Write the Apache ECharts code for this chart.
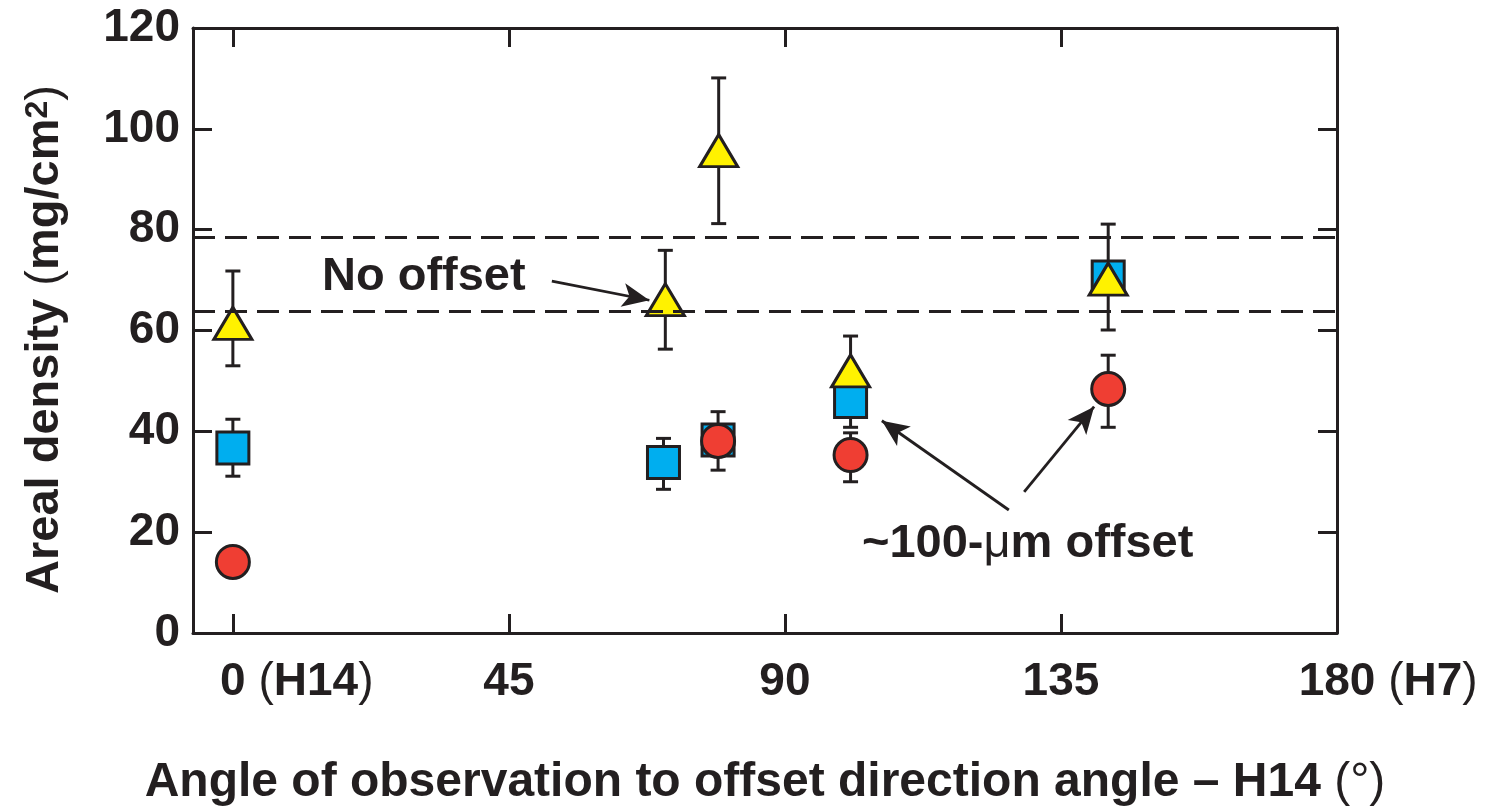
<!DOCTYPE html>
<html>
<head>
<meta charset="utf-8">
<script src="https://cdn.jsdelivr.net/npm/echarts@6/dist/echarts.min.js"></script>
<style>html,body{margin:0;padding:0;background:#fff;}#c{width:1486px;height:806px;}</style>
</head>
<body>
<div id="c"></div>
<script>
// ---- data ----
const xTicks = [0, 45, 90, 135, 180];
const yTicks = [0, 20, 40, 60, 80, 100, 120];

const triX  = [0, 70.5, 79.2, 100.7, 142.7];
const triY  = [61.4, 66.1, 95.7, 52.0, 70.2];
const triLo = [53.0, 56.3, 81.2, 52.0, 60.1];
const triHi = [71.8, 75.9, 110.1, 58.9, 81.1];

const sqX  = [0, 70.2, 79.1, 100.7, 142.7];
const sqY  = [36.7, 33.8, 38.3, 45.9, 70.6];
const sqLo = [31.1, 28.5, 38.3, 40.8, 70.6];
const sqHi = [42.4, 38.6, 38.3, 45.9, 70.6];

const cirX  = [0, 79.1, 100.7, 142.7];
const cirY  = [14.1, 38.1, 35.3, 48.4];
const cirLo = [14.1, 32.3, 30.0, 40.8];
const cirHi = [14.1, 43.9, 39.7, 55.1];

const bandLines = [78.5, 63.8];   // dashed reference lines

// annotation arrows [fromX, fromY, toX, toY] in data units
const arrows = [
  [52.0, 69.8, 67.9, 66.0],
  [126.5, 24.4, 105.8, 42.1],
  [129.0, 28.0, 140.4, 44.9]
];

const INK = '#231F20';
const FONT = '"Liberation Sans", Arial, Helvetica, sans-serif';

function zip(a, b) { return a.map((v, i) => [v, b[i]]); }
const errData = [];
[[triX, triLo, triHi], [sqX, sqLo, sqHi], [cirX, cirLo, cirHi]].forEach(g => {
  g[0].forEach((x, i) => { if (g[2][i] !== g[1][i]) errData.push([x, g[1][i], g[2][i]]); });
});

const chart = echarts.init(document.getElementById('c'));

const labelRich = {
  b:  {fontFamily: FONT, fontWeight: 'bold', fontSize: 46, color: INK},
  r:  {fontFamily: FONT, fontWeight: 'normal', fontSize: 46, color: INK},
  tb: {fontFamily: FONT, fontWeight: 'bold', fontSize: 46, color: 'rgba(0,0,0,0)'},
  tr: {fontFamily: FONT, fontWeight: 'normal', fontSize: 46, color: 'rgba(0,0,0,0)'}
};

function xLabel(v) {
  if (v === 0) return '{tr|(}{tb|H14}{tr|)}{tb| }{b|0}{b| }{r|(}{b|H14}{r|)}';
  if (v === 180) return '{tr|(}{tb|H7}{tr|)}{tb| }{b|180}{b| }{r|(}{b|H7}{r|)}';
  return '{b|' + v + '}';
}

const axisLineStyle = {show: true, onZero: false, lineStyle: {color: INK, width: 3}};
const tickStyle = {show: true, inside: true, length: 19, lineStyle: {color: INK, width: 3}};

const option = {
  backgroundColor: '#fff',
  animation: false,
  grid: {left: 193, right: 149, top: 28, bottom: 173, outerBoundsMode: 'none', containLabel: false},
  xAxis: [{
    type: 'value', min: -6.5, max: 180, position: 'bottom',
    axisLine: axisLineStyle,
    axisTick: Object.assign({customValues: xTicks}, tickStyle),
    axisLabel: {customValues: xTicks, formatter: xLabel, rich: labelRich, margin: 26, fontSize: 46},
    splitLine: {show: false},
    name: '{b|Angle of observation to offset direction angle – H14 }{r|(°)}',
    nameLocation: 'middle', nameGap: 126,
    nameTextStyle: {rich: {
      b: {fontFamily: FONT, fontWeight: 'bold', fontSize: 48, color: INK},
      r: {fontFamily: FONT, fontWeight: 'normal', fontSize: 48, color: INK}
    }}
  }, {
    type: 'value', min: -6.5, max: 180, position: 'top',
    axisLine: axisLineStyle,
    axisTick: Object.assign({customValues: xTicks}, tickStyle),
    axisLabel: {show: false}, splitLine: {show: false}
  }],
  yAxis: [{
    type: 'value', min: 0, max: 120, interval: 20, position: 'left',
    axisLine: axisLineStyle, axisTick: tickStyle,
    axisLabel: {fontFamily: FONT, fontWeight: 'bold', fontSize: 46, color: INK, margin: 13},
    splitLine: {show: false},
    name: '{b|Areal density }{r|(}{b|mg/cm}{s|2}{r|)}{p|}',
    nameLocation: 'middle', nameGap: 124, nameRotate: 90,
    nameTextStyle: {rich: {
      b: {fontFamily: FONT, fontWeight: 'bold', fontSize: 47, color: INK},
      r: {fontFamily: FONT, fontWeight: 'normal', fontSize: 47, color: INK},
      s: {fontFamily: FONT, fontWeight: 'bold', fontSize: 32, color: INK, verticalAlign: 'top'},
      p: {width: 18}
    }}
  }, {
    type: 'value', min: 0, max: 120, interval: 20, position: 'right',
    axisLine: axisLineStyle, axisTick: tickStyle,
    axisLabel: {show: false}, splitLine: {show: false}
  }],
  series: [
    {
      type: 'line', data: [], silent: true,
      markLine: {
        silent: true, symbol: ['none', 'none'], label: {show: false},
        lineStyle: {color: INK, width: 2.8, type: [22, 10]},
        data: bandLines.map(v => ({yAxis: v}))
      }
    },
    {
      type: 'line', data: [], silent: true,
      markLine: {
        silent: true, symbol: ['none', 'arrow'], symbolSize: [18, 27], label: {show: false},
        lineStyle: {color: INK, width: 2.8, type: 'solid'},
        itemStyle: {color: INK},
        data: arrows.map(a => [{coord: [a[0], a[1]]}, {coord: [a[2], a[3]]}])
      }
    },
    {
      type: 'custom', z: 1, silent: true,
      encode: {x: 0, y: [1, 2]},
      data: errData,
      renderItem: function (params, api) {
        const x = api.value(0), lo = api.value(1), hi = api.value(2);
        const p1 = api.coord([x, lo]), p2 = api.coord([x, hi]);
        const hw = 7.5;
        const st = {stroke: INK, lineWidth: 3};
        return {type: 'group', children: [
          {type: 'line', shape: {x1: p1[0], y1: p1[1], x2: p2[0], y2: p2[1]}, style: st},
          {type: 'line', shape: {x1: p1[0] - hw, y1: p1[1], x2: p1[0] + hw, y2: p1[1]}, style: st},
          {type: 'line', shape: {x1: p2[0] - hw, y1: p2[1], x2: p2[0] + hw, y2: p2[1]}, style: st}
        ]};
      }
    },
    {
      type: 'scatter', z: 3, symbol: 'rect', symbolSize: 32,
      itemStyle: {color: '#00AEEF', borderColor: INK, borderWidth: 3, opacity: 1},
      data: zip(sqX, sqY)
    },
    {
      type: 'scatter', z: 4, symbol: 'triangle', symbolSize: [38, 32],
      itemStyle: {color: '#FFF200', borderColor: INK, borderWidth: 3, opacity: 1},
      data: zip(triX, triY)
    },
    {
      type: 'scatter', z: 5, symbol: 'circle', symbolSize: 33,
      itemStyle: {color: '#EF3E33', borderColor: INK, borderWidth: 3, opacity: 1},
      data: zip(cirX, cirY)
    }
  ],
  graphic: [
    {type: 'text', left: 322, top: 254, style: {text: 'No offset', fontFamily: FONT, fontWeight: 'bold', fontSize: 47, fill: INK}},
    {type: 'text', left: 862, top: 521, style: {
      text: '{b|~100-}{r|μ}{b|m offset}',
      rich: {
        b: {fontFamily: FONT, fontWeight: 'bold', fontSize: 47, fill: INK, color: INK},
        r: {fontFamily: FONT, fontWeight: 'normal', fontSize: 47, fill: INK, color: INK}
      }
    }}
  ]
};
chart.setOption(option);
</script>
</body>
</html>
